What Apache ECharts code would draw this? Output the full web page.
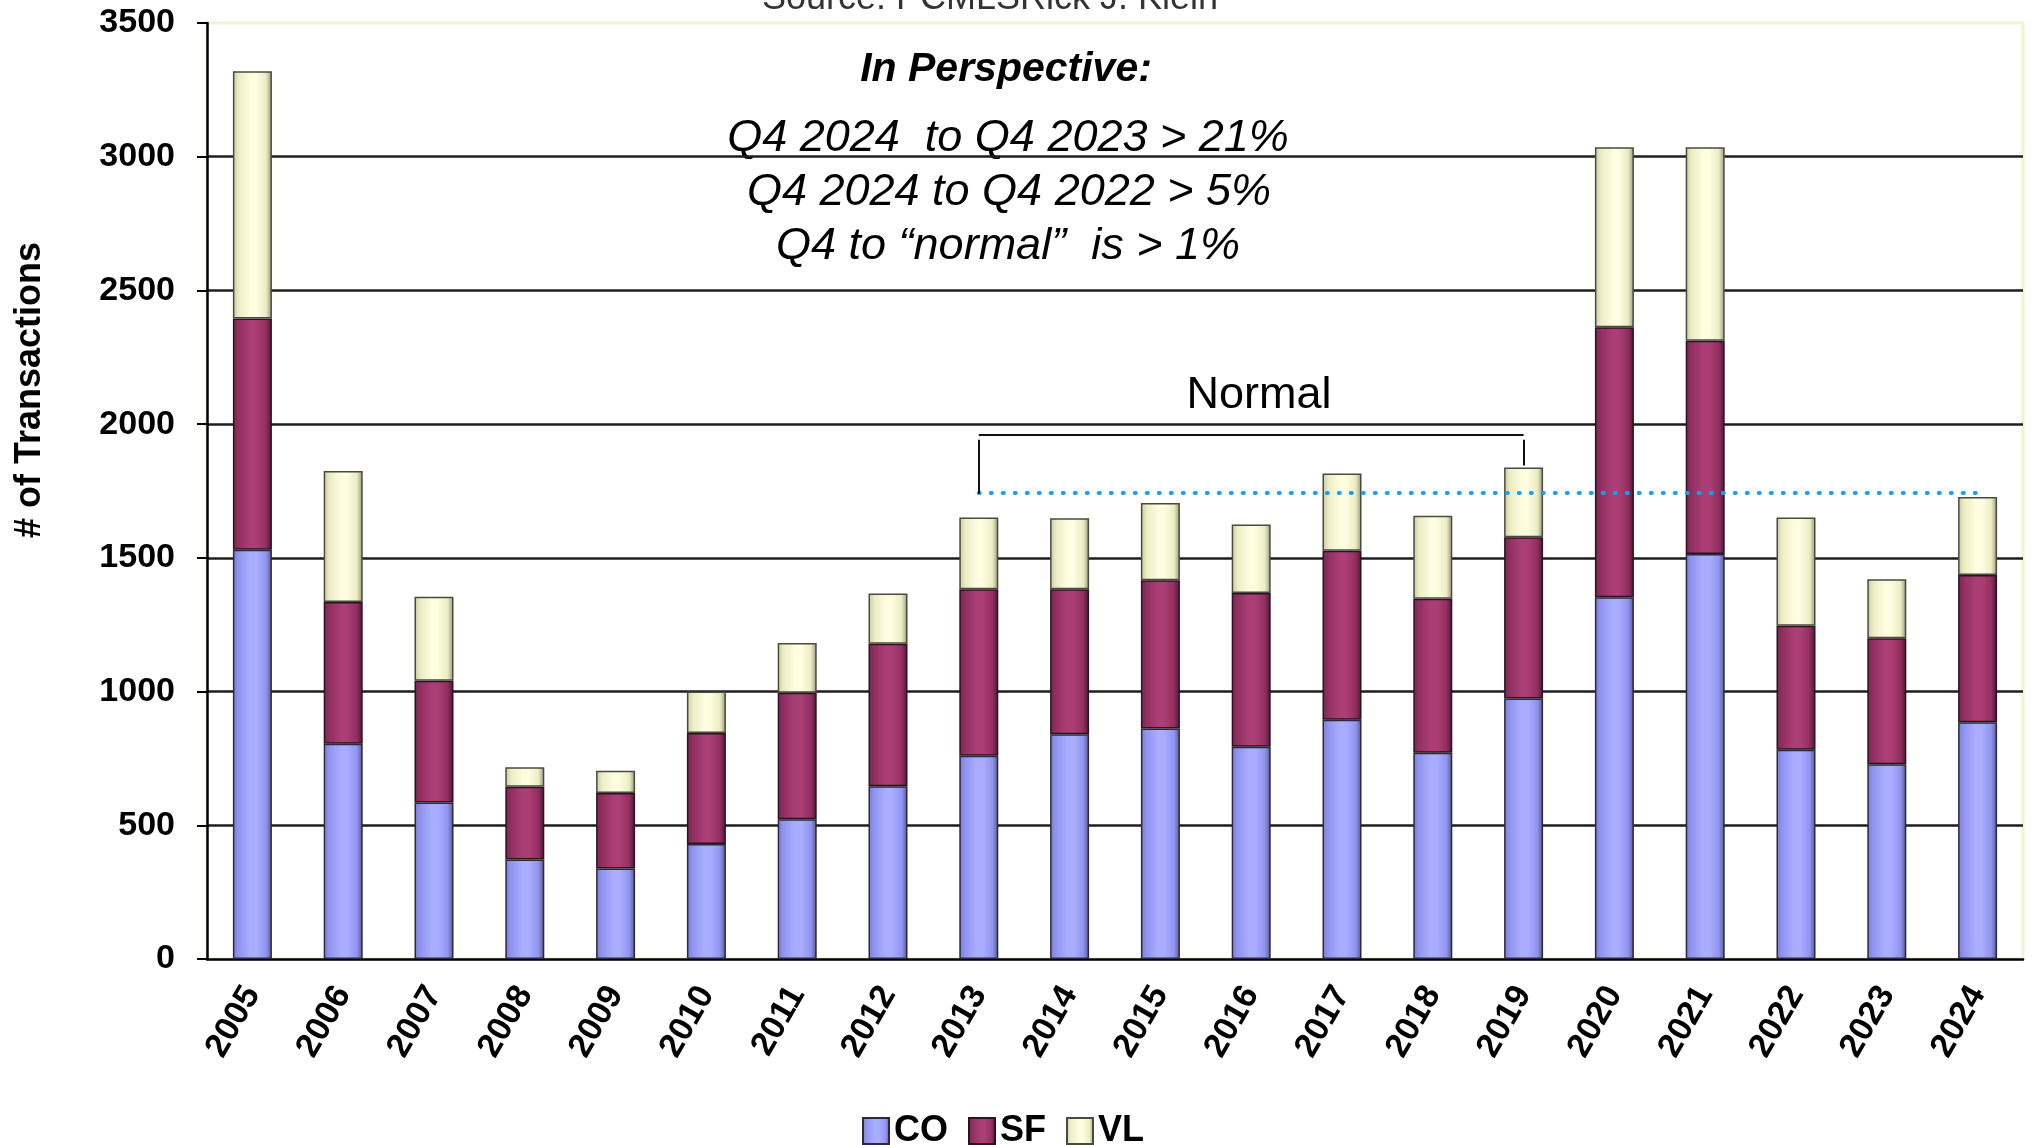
<!DOCTYPE html>
<html>
<head>
<meta charset="utf-8">
<title>Transactions by year</title>
<script src="https://cdn.jsdelivr.net/npm/echarts@6/dist/echarts.min.js"></script>
<style>
  html, body { margin: 0; padding: 0; background: #fff; }
  #chart { width: 2033px; height: 1145px; }
</style>
</head>
<body>
<div id="chart"></div>
<script>
// values
const years = ['2005', '2006', '2007', '2008', '2009', '2010', '2011', '2012', '2013', '2014',
  '2015', '2016', '2017', '2018', '2019', '2020', '2021', '2022', '2023', '2024'];
const co = [1530, 805, 585, 372, 338, 430, 523, 646, 760, 840, 862, 794, 895, 771, 974, 1353, 1514, 782, 728, 885];
const sf = [865, 530, 455, 272, 283, 415, 473, 533, 623, 543, 554, 575, 632, 576, 603, 1009, 798, 464, 471, 551];
const vl = [925, 490, 315, 73, 83, 155, 186, 188, 268, 265, 289, 256, 288, 310, 261, 673, 723, 405, 221, 292];
const yTicks = [0, 500, 1000, 1500, 2000, 2500, 3000, 3500];

// "normal" reference level and the bracket over 2013-2019
const normalLevel = 1745;
const bracketTop = 1962;
const bracketLeftEnd = 1740;
const bracketRightEnd = 1845;

const perspective = [
  'Q4 2024  to Q4 2023 > 21%',
  'Q4 2024 to Q4 2022 > 5%',
  'Q4 to \u201cnormal\u201d  is > 1%'
];

const FONT = '"Liberation Sans", Arial, sans-serif';

function bevel(left, mid, light, right) {
  return new echarts.graphic.LinearGradient(0, 0, 1, 0, [
    { offset: 0, color: left },
    { offset: 0.15, color: mid },
    { offset: 0.45, color: light },
    { offset: 0.6, color: light },
    { offset: 0.85, color: mid },
    { offset: 1, color: right }
  ]);
}

const chart = echarts.init(document.getElementById('chart'));

let option = {
  backgroundColor: '#fff',
  animation: false,
  grid: {
    left: 207,
    right: 10,
    top: 23,
    bottom: 186,
    show: true,
    borderColor: '#f2f2cf',
    borderWidth: 3,
    backgroundColor: '#fff'
  },
  legend: {
    left: 857,
    top: 1108,
    itemWidth: 26,
    itemHeight: 26,
    itemGap: 20,
    icon: 'rect',
    textStyle: { fontFamily: FONT, fontWeight: 'bold', fontSize: 36, color: '#000' },
    data: ['CO', 'SF', 'VL']
  },
  xAxis: {
    type: 'category',
    data: years,
    axisLine: { lineStyle: { color: '#000', width: 2.5 } },
    axisTick: { length: 10, lineStyle: { color: '#000', width: 2 } },
    axisLabel: {
      rotate: 60,
      margin: 30,
      fontFamily: FONT,
      fontWeight: 'bold',
      fontSize: 34,
      color: '#000'
    },
    splitLine: { show: false }
  },
  yAxis: {
    type: 'value',
    min: yTicks[0],
    max: yTicks[yTicks.length - 1],
    interval: 500,
    axisLine: { show: true, lineStyle: { color: '#000', width: 2.5 } },
    axisTick: { show: true, length: 10, lineStyle: { color: '#000', width: 2 } },
    axisLabel: {
      margin: 32,
      fontFamily: FONT,
      fontWeight: 'bold',
      fontSize: 34,
      color: '#000',
      formatter: function (v) { return String(v); }
    },
    splitLine: {
      show: true,
      showMinLine: false,
      showMaxLine: false,
      lineStyle: { color: '#1e1e1e', width: 2.5 }
    }
  },
  graphic: [
    {
      type: 'text', x: 30, y: 390, rotation: Math.PI / 2,
      style: { text: '# of Transactions', align: 'center', verticalAlign: 'middle',
        font: 'bold 36px ' + FONT, fill: '#000' }
    },
    {
      type: 'text', x: 990, y: -1,
      style: { text: 'Source: PCMLSRick J. Klein', align: 'center', verticalAlign: 'middle',
        font: '36px ' + FONT, fill: '#333' }
    },
    {
      type: 'text', x: 1006, y: 70,
      style: { text: 'In Perspective:', align: 'center', verticalAlign: 'middle',
        font: 'italic bold 41px ' + FONT, fill: '#000' }
    },
    {
      type: 'text', x: 1008, y: 138,
      style: { text: perspective[0], align: 'center', verticalAlign: 'middle',
        font: 'italic 45px ' + FONT, fill: '#000' }
    },
    {
      type: 'text', x: 1009, y: 192,
      style: { text: perspective[1], align: 'center', verticalAlign: 'middle',
        font: 'italic 45px ' + FONT, fill: '#000' }
    },
    {
      type: 'text', x: 1008, y: 246,
      style: { text: perspective[2], align: 'center', verticalAlign: 'middle',
        font: 'italic 45px ' + FONT, fill: '#000' }
    },
    {
      type: 'text', x: 1259, y: 396,
      style: { text: 'Normal', align: 'center', verticalAlign: 'middle',
        font: '45px ' + FONT, fill: '#000' }
    }
  ],
  series: [
    {
      name: 'CO',
      type: 'bar',
      stack: 'total',
      barWidth: 39,
      data: co,
      itemStyle: {
        color: bevel('#7a7dd6', '#9194f0', '#aaadff', '#55578f'),
        borderColor: '#2a2a3a',
        borderWidth: 1.5
      }
    },
    {
      name: 'SF',
      type: 'bar',
      stack: 'total',
      barWidth: 39,
      data: sf,
      itemStyle: {
        color: bevel('#76284f', '#922f61', '#ab3f75', '#4c1730'),
        borderColor: '#2a1420',
        borderWidth: 1.5
      }
    },
    {
      name: 'VL',
      type: 'bar',
      stack: 'total',
      barWidth: 39,
      data: vl,
      itemStyle: {
        color: bevel('#c9c9a2', '#ececc4', '#fdfde0', '#96967a'),
        borderColor: '#4a4a40',
        borderWidth: 1.5
      },
      markLine: {
        silent: true,
        symbol: 'none',
        label: { show: false },
        data: [
          [
            { coord: ['2013', normalLevel], lineStyle: { color: '#1a9fe8', width: 4, type: [1, 11], cap: 'round' } },
            { coord: ['2024', normalLevel] }
          ],
          [
            { coord: ['2013', bracketTop], lineStyle: { color: '#111', width: 2, type: 'solid' } },
            { coord: ['2019', bracketTop] }
          ],
          [
            { coord: ['2013', bracketTop - 20], lineStyle: { color: '#111', width: 2, type: 'solid' } },
            { coord: ['2013', bracketLeftEnd] }
          ],
          [
            { coord: ['2019', bracketTop - 20], lineStyle: { color: '#111', width: 2, type: 'solid' } },
            { coord: ['2019', bracketRightEnd] }
          ]
        ]
      }
    }
  ]
};

chart.setOption(option);
</script>
</body>
</html>
